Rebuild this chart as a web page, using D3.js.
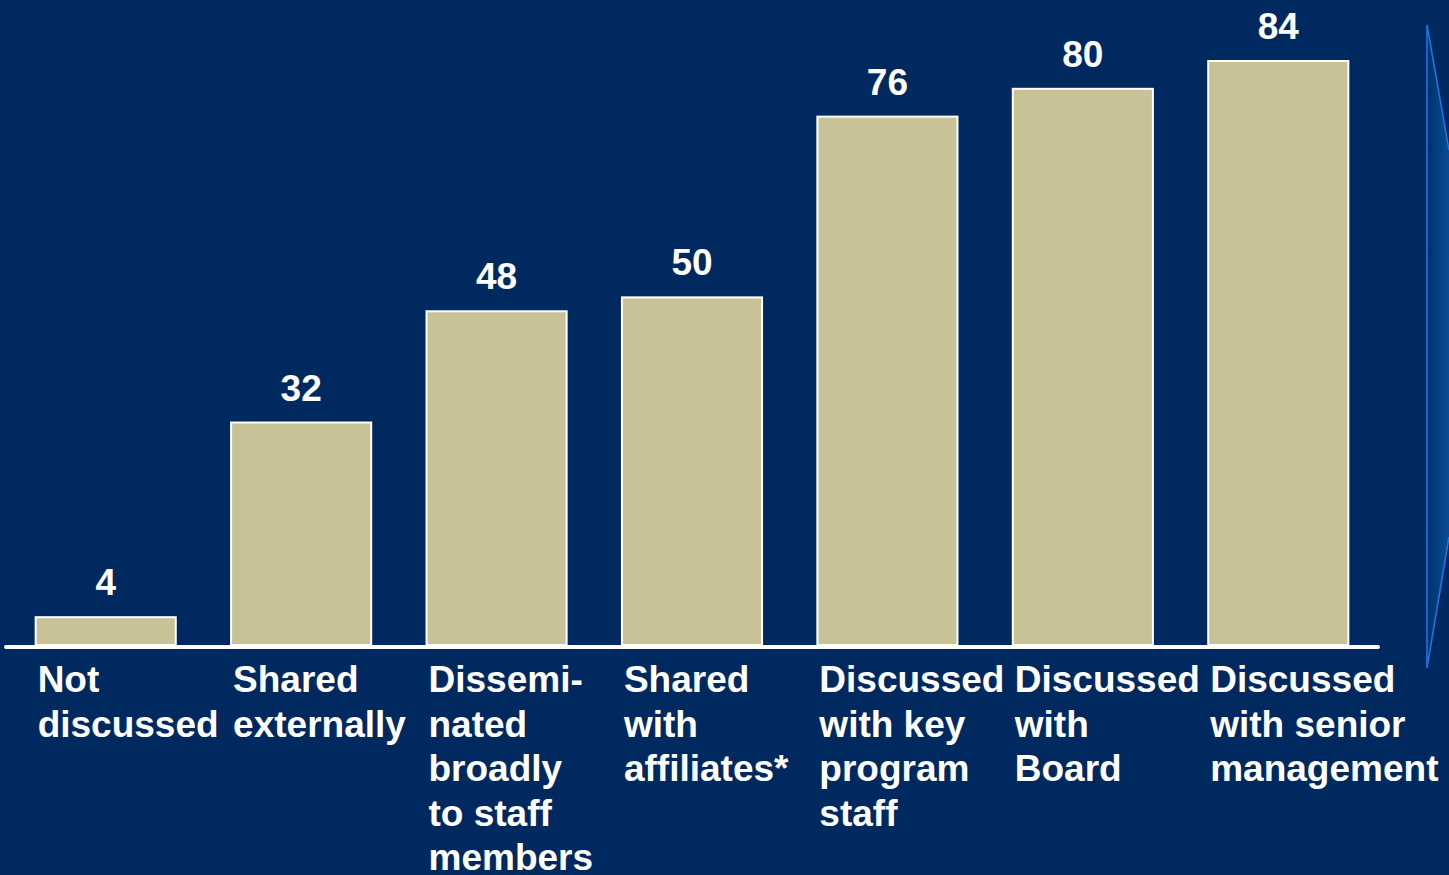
<!DOCTYPE html>
<html>
<head>
<meta charset="utf-8">
<script src="https://cdn.jsdelivr.net/npm/d3@7"></script>
<style>
  html, body { margin: 0; padding: 0; background: #002960; }
  svg { display: block; }
</style>
</head>
<body>
<svg id="chart" width="1449" height="875"></svg>
<script>
// How board/staff engage with evaluation findings (percent of respondents)
const categories = [
  ["Not", "discussed"],
  ["Shared", "externally"],
  ["Dissemi-", "nated", "broadly", "to staff", "members"],
  ["Shared", "with", "affiliates*"],
  ["Discussed", "with key", "program", "staff"],
  ["Discussed", "with", "Board"],
  ["Discussed", "with senior", "management"]
];
const values = [4, 32, 48, 50, 76, 80, 84];

const W = 1449, H = 875;
const svg = d3.select("#chart");
const font = "'Liberation Sans', Arial, Helvetica, sans-serif";

svg.append("rect").attr("width", W).attr("height", H).attr("fill", "#002960");

// decorative panel edge on the right
const defs = svg.append("defs");
const grad = defs.append("linearGradient").attr("id", "edgeGrad")
  .attr("x1", "0").attr("x2", "1").attr("y1", "0").attr("y2", "0");
grad.append("stop").attr("offset", "0").attr("stop-color", "#00306a");
grad.append("stop").attr("offset", "1").attr("stop-color", "#0a4c98");
svg.append("path")
  .attr("d", "M1427,25 L1449,150 L1449,537 L1427,668 Z")
  .attr("fill", "url(#edgeGrad)");
svg.append("path")
  .attr("d", "M1449,150 L1427,25 L1427,668 L1449,537")
  .attr("fill", "none")
  .attr("stroke", "#1f73e0")
  .attr("stroke-width", 1.6);

const x = d3.scaleBand()
  .domain(d3.range(categories.length))
  .range([8, 1376])
  .paddingInner(0.283)
  .paddingOuter(0.1415);

const y = d3.scaleLinear().domain([0, 84]).range([645, 61]);

// bars
svg.append("g").selectAll("rect")
  .data(values)
  .join("rect")
  .attr("x", (d, i) => x(i))
  .attr("y", d => y(d))
  .attr("width", x.bandwidth())
  .attr("height", d => y(0) - y(d))
  .attr("fill", "#c7c396")
  .attr("stroke", "#ffffff")
  .attr("stroke-width", 2);

// value labels
svg.append("g").selectAll("text")
  .data(values)
  .join("text")
  .attr("x", (d, i) => x(i) + x.bandwidth() / 2)
  .attr("y", d => y(d) - 22)
  .attr("text-anchor", "middle")
  .attr("fill", "#ffffff")
  .attr("font-family", font)
  .attr("font-weight", "bold")
  .attr("font-size", 37)
  .text(d => d);

// baseline
svg.append("line")
  .attr("x1", 6).attr("x2", 1378)
  .attr("y1", y(0) + 2).attr("y2", y(0) + 2)
  .attr("stroke", "#ffffff")
  .attr("stroke-width", 4)
  .attr("stroke-linecap", "round");

// category labels
const lab = svg.append("g").selectAll("text")
  .data(categories)
  .join("text")
  .attr("x", (d, i) => x(i) + 2)
  .attr("y", 692)
  .attr("fill", "#ffffff")
  .attr("font-family", font)
  .attr("font-weight", "bold")
  .attr("font-size", 37);
lab.selectAll("tspan")
  .data((d, i) => d.map(t => ({ t, i })))
  .join("tspan")
  .attr("x", d => x(d.i) + 2)
  .attr("dy", (d, j) => j === 0 ? 0 : 44.5)
  .text(d => d.t);
</script>
</body>
</html>
